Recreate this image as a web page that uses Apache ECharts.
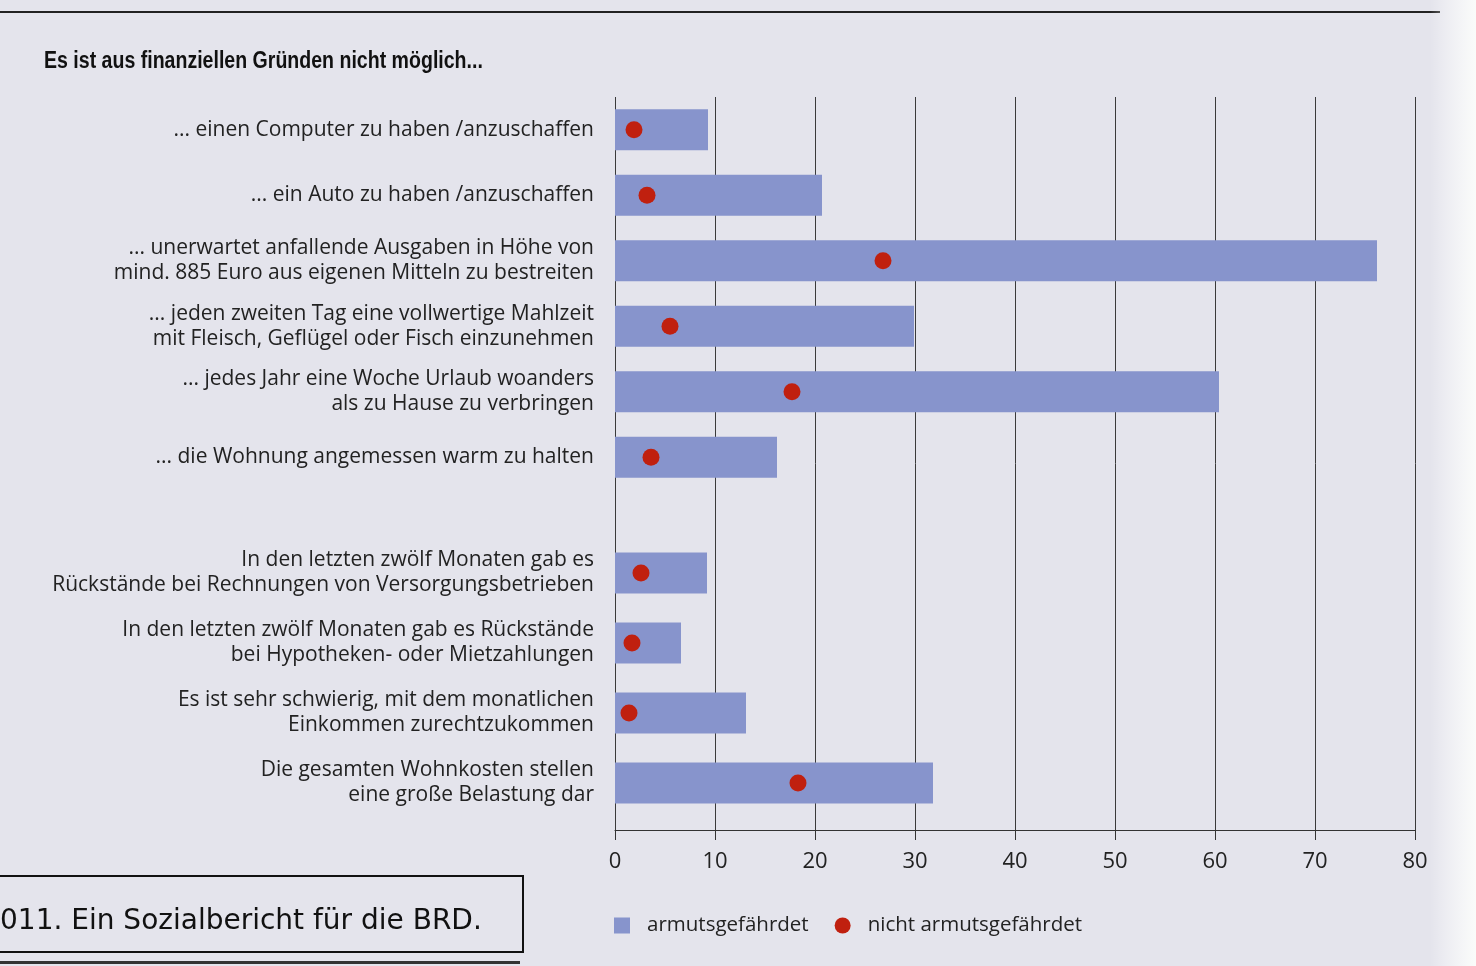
<!DOCTYPE html>
<html><head><meta charset="utf-8">
<script src="https://cdn.jsdelivr.net/npm/echarts@6/dist/echarts.min.js"></script>
<style>html,body{margin:0;padding:0;background:#e4e4ec}#c{width:1476px;height:966px}</style>
</head><body><div id="c"></div>
<script>
const titleText = 'Es ist aus finanziellen Gründen nicht möglich...';
const categoriesTop = [
  '... einen Computer zu haben /anzuschaffen',
  '... ein Auto zu haben /anzuschaffen',
  '... unerwartet anfallende Ausgaben in Höhe von\nmind. 885 Euro aus eigenen Mitteln zu bestreiten',
  '... jeden zweiten Tag eine vollwertige Mahlzeit\nmit Fleisch, Geflügel oder Fisch einzunehmen',
  '... jedes Jahr eine Woche Urlaub woanders\nals zu Hause zu verbringen',
  '... die Wohnung angemessen warm zu halten'
];
const armTop = [9.3, 20.7, 76.2, 29.9, 60.4, 16.2];
const nichtTop = [1.9, 3.2, 26.8, 5.5, 17.7, 3.6];
const categoriesBottom = [
  'In den letzten zwölf Monaten gab es\nRückstände bei Rechnungen von Versorgungsbetrieben',
  'In den letzten zwölf Monaten gab es Rückstände\nbei Hypotheken- oder Mietzahlungen',
  'Es ist sehr schwierig, mit dem monatlichen\nEinkommen zurechtzukommen',
  'Die gesamten Wohnkosten stellen\neine große Belastung dar'
];
const armBottom = [9.2, 6.6, 13.1, 31.8];
const nichtBottom = [2.6, 1.7, 1.4, 18.3];
const seriesNames = ['armutsgefährdet', 'nicht armutsgefährdet'];
const xTicks = [0, 80, 10];
const sourceText = '011. Ein Sozialbericht für die BRD.';

const FONT = 'Open Sans';
const BAR = '#8794cc';
const DOT = '#c0200f';
const TXT = '#222';

const chart = echarts.init(document.getElementById('c'));
const catLabel = {
  margin: 21, color: TXT, fontFamily: FONT, fontSize: 21, lineHeight: 25, align: 'right'
};
chart.setOption({
  backgroundColor: '#e4e4ec',
  animation: false,
  legend: {
    left: 609, top: 910,
    itemWidth: 16, itemHeight: 16, itemGap: 26,
    textStyle: { fontFamily: FONT, fontSize: 20.5, color: TXT, padding: [0, 0, 0, 12] },
    data: [{ name: seriesNames[0], icon: 'rect' }, { name: seriesNames[1], icon: 'circle' }]
  },
  grid: [
    { left: 615, right: 61, top: 97, height: 733 },
    { left: 615, right: 61, top: 97, height: 393 },
    { left: 615, right: 61, top: 538, height: 280 }
  ],
  xAxis: [
    { gridIndex: 0, type: 'value', min: xTicks[0], max: xTicks[1], interval: xTicks[2],
      axisLine: { show: true, lineStyle: { color: '#333', width: 1 } },
      axisTick: { show: true, length: 10, lineStyle: { color: '#333' } },
      splitLine: { show: true, lineStyle: { color: '#3a3a3a', width: 1 } },
      axisLabel: { margin: 21, color: TXT, fontFamily: FONT, fontSize: 22 } },
    { gridIndex: 1, type: 'value', min: xTicks[0], max: xTicks[1], show: false, splitLine: { show: false } },
    { gridIndex: 2, type: 'value', min: xTicks[0], max: xTicks[1], show: false, splitLine: { show: false } }
  ],
  yAxis: [
    { gridIndex: 0, type: 'value', show: false, min: 0, max: 1, splitLine: { show: false } },
    { gridIndex: 1, type: 'category', inverse: true, data: categoriesTop,
      axisLine: { show: false }, axisTick: { show: false }, axisLabel: catLabel },
    { gridIndex: 2, type: 'category', inverse: true, data: categoriesBottom,
      axisLine: { show: false }, axisTick: { show: false }, axisLabel: catLabel }
  ],
  series: [
    { name: seriesNames[0], type: 'bar', xAxisIndex: 1, yAxisIndex: 1, data: armTop,
      barWidth: 41, itemStyle: { color: BAR } },
    { name: seriesNames[1], type: 'scatter', xAxisIndex: 1, yAxisIndex: 1, data: nichtTop,
      symbolSize: 17, itemStyle: { color: DOT, opacity: 1 }, z: 5 },
    { name: seriesNames[0], type: 'bar', xAxisIndex: 2, yAxisIndex: 2, data: armBottom,
      barWidth: 41, itemStyle: { color: BAR } },
    { name: seriesNames[1], type: 'scatter', xAxisIndex: 2, yAxisIndex: 2, data: nichtBottom,
      symbolSize: 17, itemStyle: { color: DOT, opacity: 1 }, z: 5 }
  ],
  graphic: [
    { type: 'rect', shape: { x: 0, y: 11, width: 1440, height: 2 }, style: { fill: '#222' } },
    { type: 'text', x: 44, y: 50, scaleX: 0.85,
      style: { text: titleText, fontFamily: 'Liberation Sans', fontWeight: 'bold', fontSize: 23, fill: '#111' } },
    { type: 'rect', shape: { x: 1430, y: 0, width: 46, height: 966 },
      style: { fill: new echarts.graphic.LinearGradient(0, 0, 1, 0, [
        { offset: 0, color: 'rgba(255,255,255,0)' }, { offset: 1, color: 'rgba(250,252,250,1)' }]) } },
    { type: 'rect', shape: { x: -2, y: 876, width: 525, height: 76 },
      style: { fill: 'rgba(0,0,0,0)', stroke: '#111', lineWidth: 2 } },
    { type: 'text', x: 0, y: 908,
      style: { text: sourceText, fontFamily: 'DejaVu Sans', fontSize: 28, fill: '#111' } },
    { type: 'rect', shape: { x: 0, y: 961, width: 520, height: 3 }, style: { fill: '#333' } }
  ]
});
</script>
</body></html>
